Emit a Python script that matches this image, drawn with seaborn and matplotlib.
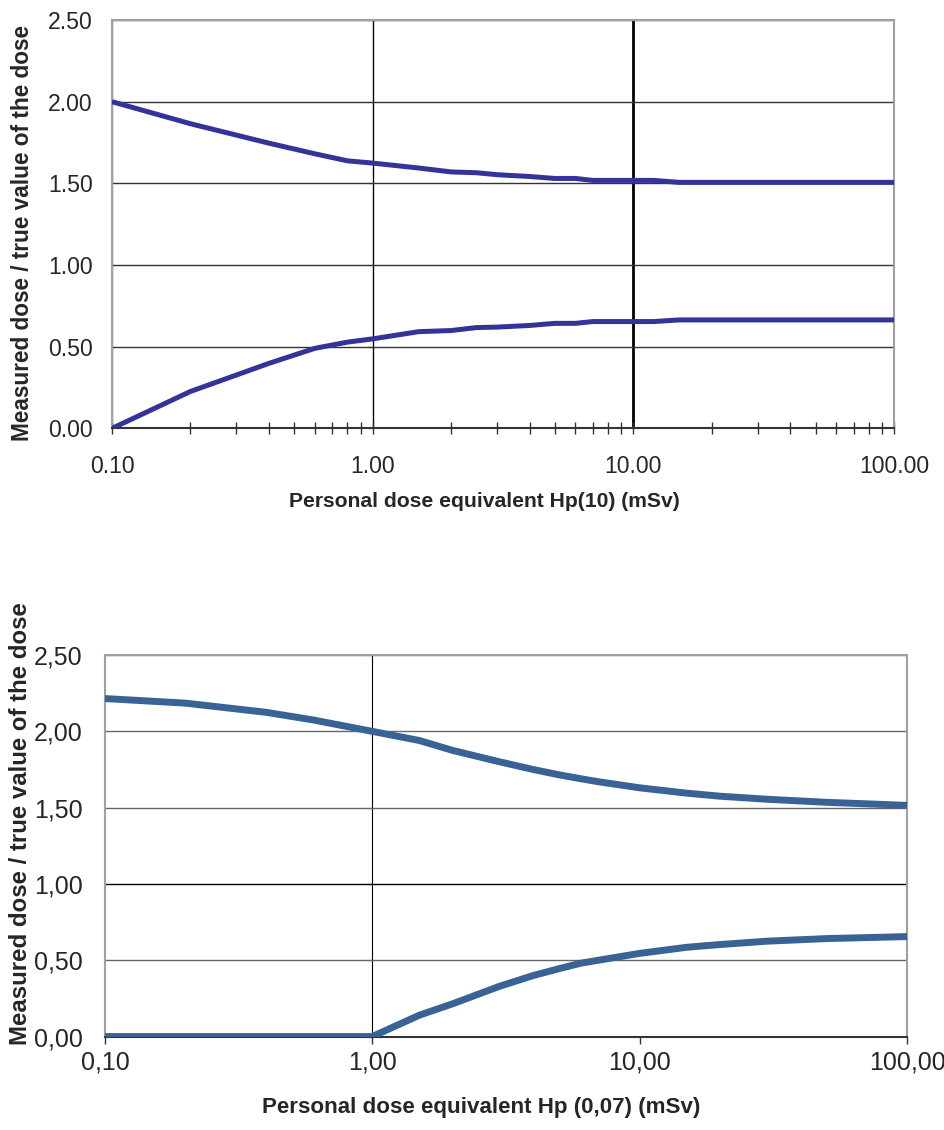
import numpy as np
import pandas as pd
import matplotlib
matplotlib.use("Agg")
import matplotlib.pyplot as plt
import matplotlib.ticker as mticker
import seaborn as sns

# Hp(10) chart: trumpet curve limits
hp10_dose = [0.1, 0.2, 0.4, 0.6, 0.8, 1.0, 1.5, 2.0, 2.5, 3.0, 4.0, 5.0, 6.0, 7.0,
             8.0, 10.0, 12.0, 15.0, 20.0, 30.0, 50.0, 100.0]
hp10_upper = [2.00, 1.865, 1.746, 1.681, 1.638, 1.624, 1.594, 1.570, 1.565, 1.553, 1.542,
              1.530, 1.530, 1.518, 1.518, 1.518, 1.518, 1.506, 1.506, 1.506, 1.506, 1.506]
hp10_lower = [0.00, 0.226, 0.398, 0.490, 0.528, 0.548, 0.592, 0.599, 0.617, 0.620, 0.630,
              0.643, 0.643, 0.654, 0.654, 0.654, 0.654, 0.664, 0.664, 0.664, 0.664, 0.664]

# Hp(0,07) chart
hp007_dose = [0.1, 0.2, 0.4, 0.6, 1.0, 1.5, 2.0, 3.0, 4.0, 5.0, 6.0, 7.0, 10.0, 15.0,
              20.0, 30.0, 50.0, 100.0]
hp007_upper = [2.215, 2.185, 2.125, 2.075, 2.00, 1.94, 1.875, 1.80, 1.75, 1.715, 1.69,
               1.67, 1.63, 1.595, 1.575, 1.555, 1.535, 1.515]
hp007_lower = [0.00, 0.00, 0.00, 0.00, 0.00, 0.14, 0.215, 0.33, 0.40, 0.445, 0.48,
               0.50, 0.545, 0.585, 0.603, 0.625, 0.642, 0.655]

x_ticks = [0.1, 1, 10, 100]
y_ticks = [0.0, 0.5, 1.0, 1.5, 2.0, 2.5]
x_labels_top = ["0.10", "1.00", "10.00", "100.00"]
y_labels_top = ["0.00", "0.50", "1.00", "1.50", "2.00", "2.50"]
x_labels_bot = ["0,10", "1,00", "10,00", "100,00"]
y_labels_bot = ["0,00", "0,50", "1,00", "1,50", "2,00", "2,50"]

ylabel = "Measured dose / true value of the dose"

sns.set_style("white")
plt.rcParams['font.family'] = ['Liberation Sans', 'DejaVu Sans']

fig = plt.figure(figsize=(9.45, 11.3), dpi=100)
ax1 = fig.add_axes([0.1185, 0.6209, 0.8275, 0.3614])
ax2 = fig.add_axes([0.111, 0.0827, 0.8488, 0.3376])

df_top = pd.DataFrame({'dose': hp10_dose, 'upper': hp10_upper, 'lower': hp10_lower})
df_bot = pd.DataFrame({'dose': hp007_dose, 'upper': hp007_upper, 'lower': hp007_lower})

for col in ['upper', 'lower']:
    sns.lineplot(data=df_top, x='dose', y=col, ax=ax1, color='#333399', lw=3.6,
                 solid_capstyle='butt', solid_joinstyle='round', zorder=5)
    sns.lineplot(data=df_bot, x='dose', y=col, ax=ax2, color='#3A6395', lw=5,
                 solid_capstyle='butt', solid_joinstyle='round', zorder=5)


def style_axes(ax, xlabels, ylabels, fs):
    ax.set_xscale('log')
    ax.set_xlim(0.1, 100)
    ax.set_ylim(0, 2.5)
    ax.set_xticks(x_ticks)
    ax.set_xticklabels(xlabels, fontsize=fs)
    ax.set_yticks(y_ticks)
    ax.set_yticklabels(ylabels, fontsize=fs)
    ax.grid(False)
    ax.yaxis.grid(True, color='#333333', lw=1.0)
    for s in ['top', 'right', 'left']:
        ax.spines[s].set_color('#a0a0a0')
        ax.spines[s].set_linewidth(1.5)
    ax.spines['bottom'].set_color('#333333')
    ax.spines['bottom'].set_linewidth(1.5)
    ax.tick_params(axis='y', length=0)
    # value axis crosses at 1.0
    sec = ax.secondary_yaxis(1 / 3)
    sec.set_yticks(y_ticks)
    sec.tick_params(axis='y', direction='out', length=4, width=0.8, color='black',
                    labelleft=False, labelright=False)
    sec.spines['left'].set_color('black')
    sec.spines['left'].set_linewidth(0.8)


style_axes(ax1, x_labels_top, y_labels_top, 16.6)
style_axes(ax2, x_labels_bot, y_labels_bot, 18)

# top chart: minor ticks crossing the axis
ax1.xaxis.set_minor_locator(mticker.LogLocator(base=10, subs=np.arange(2, 10)))
ax1.xaxis.set_minor_formatter(mticker.NullFormatter())
ax1.tick_params(axis='x', which='both', direction='inout', length=8, width=1.0,
                color='#333333', bottom=True, pad=15)
ax1.tick_params(axis='y', pad=14)
ax1.xaxis.grid(True, which='major', color='black', lw=0.9)
ax1.xaxis.get_gridlines()[2].set_linewidth(2.0)

# bottom chart: only the 1.00 vertical line
ax2.xaxis.set_minor_locator(mticker.NullLocator())
ax2.tick_params(axis='x', which='major', direction='out', length=5, width=1.0,
                color='#333333', bottom=True, pad=5)
ax2.tick_params(axis='y', pad=16)
ax2.yaxis.grid(True, color='#666666', lw=1.0)
for gl in ax2.yaxis.get_gridlines():
    gl.set_color('#666666')
ax2.yaxis.get_gridlines()[2].set_color('black')

ax1.set_xlabel("Personal dose equivalent Hp(10) (mSv)", fontsize=15.2, fontweight='bold')
ax1.set_ylabel(ylabel, fontsize=16.3, fontweight='bold')
ax1.xaxis.set_label_coords(0.476, -0.178)
ax1.yaxis.set_label_coords(-0.114, 0.479)
ax1.xaxis.label.set_va('center')
ax1.yaxis.label.set_va('center')

ax2.set_xlabel("Personal dose equivalent Hp (0,07) (mSv)", fontsize=16.1, fontweight='bold')
ax2.set_ylabel(ylabel, fontsize=17.3, fontweight='bold')
ax2.xaxis.set_label_coords(0.469, -0.187)
ax2.yaxis.set_label_coords(-0.105, 0.558)
ax2.xaxis.label.set_va('center')
ax2.yaxis.label.set_va('center')

fig.savefig('out.png', dpi=100)
